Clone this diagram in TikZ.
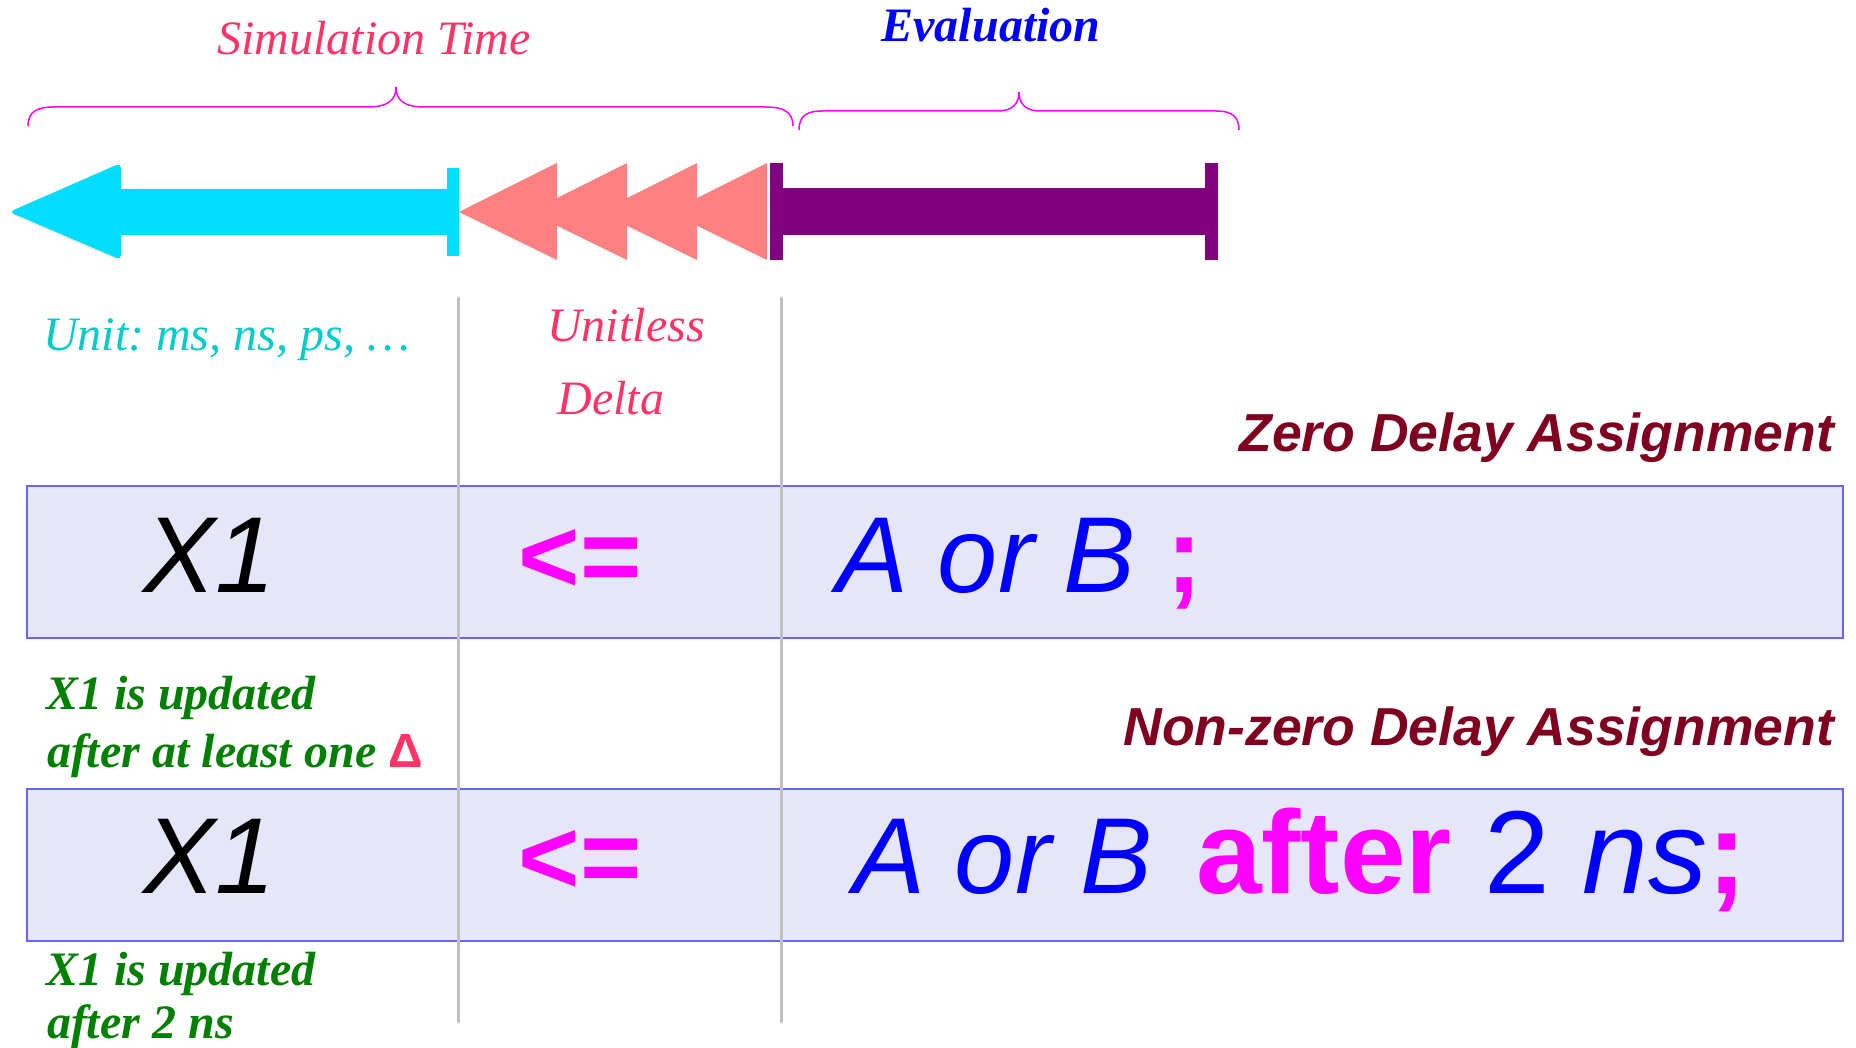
\documentclass[tikz,border=0pt]{standalone}
\usepackage{fontspec}
\setmainfont{Liberation Serif}
\setsansfont{Liberation Sans}
\frenchspacing
\newcommand\setfs[1]{\fontsize{#1}{#1}\selectfont}
\definecolor{simred}{RGB}{255,51,102}
\definecolor{unitc}{RGB}{0,204,204}
\definecolor{evalblue}{RGB}{0,0,255}
\definecolor{burg}{RGB}{128,0,32}
\definecolor{grn}{RGB}{0,128,0}
\definecolor{mag}{RGB}{255,0,255}
\definecolor{cyanar}{RGB}{0,221,255}
\definecolor{salm}{RGB}{255,128,128}
\definecolor{purp}{RGB}{128,0,128}
\definecolor{boxfill}{RGB}{230,230,250}
\definecolor{boxline}{RGB}{102,102,255}
\definecolor{guide}{RGB}{192,192,192}
\begin{document}
\begin{tikzpicture}[x=1pt,y=-1pt,
  txt/.style={inner sep=0pt, outer sep=0pt},
  serifit/.style={txt, font=\frenchspacing\setfs{48}\itshape},
  serifbi/.style={txt, font=\frenchspacing\setfs{48}\bfseries\itshape},
  sansbi/.style={txt, font=\sffamily\setfs{53.5}\bfseries\itshape, text=burg},
  bigtxt/.style={txt, font=\sffamily\setfs{108}},
  rowbox/.style={draw=boxline, fill=boxfill, line width=1.5pt, minimum width=1816pt, minimum height=152pt, anchor=north west, inner sep=0pt},
  bracestyle/.style={draw=mag, line width=1.5pt},
  guideline/.style={draw=guide, line width=3pt}
]
\fill[white] (0,0) rectangle (1856,1048);
\useasboundingbox (0,0) rectangle (1856,1048);

% cyan arrow
\fill[cyanar] (121,189) -- (447,189) -- (447,235) -- (121,235) [rounded corners=5pt] -- (121,260) -- (9,212) -- (121,163) [sharp corners] -- (121,189) -- cycle;
\fill[cyanar] (447,168) rectangle (459,256);

% salmon triangles
\foreach \k in {0,1,2,3}{
  \fill[salm] ({459+70*\k},212) -- ({557+70*\k},163) -- ({557+70*\k},260) -- cycle;
}

% purple bar
\fill[purp] (770,163) rectangle (783,260);
\fill[purp] (783,188) rectangle (1205,235);
\fill[purp] (1205,163) rectangle (1218,260);

% braces
\draw[bracestyle] (28,126) .. controls (28,111) and (38,107) .. (54,107) -- (368,107) .. controls (388,107) and (396,100) .. (396,87) .. controls (396,100) and (404,107) .. (424,107) -- (766,107) .. controls (782,107) and (793,111) .. (793,126);
\draw[bracestyle] (799,130) .. controls (799,115) and (808,111) .. (822,111) -- (998,111) .. controls (1012,111) and (1019,104) .. (1019,92) .. controls (1019,104) and (1026,111) .. (1040,111) -- (1216,111) .. controls (1230,111) and (1239,115) .. (1239,130);

% boxes
\node[rowbox] (row1) at (26,485) {};
\node[rowbox] (row2) at (26,788) {};

% guide lines
\draw[guideline] (458,297) -- (458,1023);
\draw[guideline] (781,297) -- (781,1023);

% top labels
\node[serifit, text=simred, anchor=base] (simtime) at (374,55) {Simulation Time};
\node[serifbi, text=evalblue, anchor=base] (eval) at (991,42) {Evaluation};
\node[serifit, text=unitc, anchor=base west] (unit) at (43,351) {Unit: ms, ns, ps, …};
\node[serifit, text=simred, anchor=base] (unitless) at (626,342) {Unitless};
\node[serifit, text=simred, anchor=base] (delta) at (611,415) {Delta};
\node[sansbi, anchor=base east] (zero) at (1834,452) {Zero Delay Assignment};
\node[sansbi, anchor=base east] (nonzero) at (1834,745) {Non-zero Delay Assignment};

% row 1
\node[bigtxt, font=\sffamily\setfs{108}\itshape, anchor=base] (xa) at (210,592) {X1};
\node[bigtxt, font=\sffamily\setfs{105}\bfseries, text=mag, anchor=base] (asga) at (580,592) {<=};
\node[bigtxt, anchor=base west] (expra) at (836,592) {{\color{evalblue}\itshape A or B} {\color{mag}\bfseries ;}};

% row 2
\node[bigtxt, font=\sffamily\setfs{108}\itshape, anchor=base] (xb) at (210,893) {X1};
\node[bigtxt, font=\sffamily\setfs{105}\bfseries, text=mag, anchor=base] (asgb) at (580,893) {<=};
\node[bigtxt, anchor=base west] (exprb) at (853,893) {{\color{evalblue}\itshape A or B}};
\node[txt, font=\sffamily\setfs{118}, anchor=base west] (delayb) at (1196,893) {{\color{mag}\bfseries after} {\color{evalblue}2 \itshape ns}{\color{mag}\bfseries ;}};

% green notes
\node[serifbi, text=grn, anchor=base west] (upda1) at (46,709) {X1 is updated};
\node[serifbi, text=grn, anchor=base west] (upda2) at (47,767) {after at least one {\sffamily\bfseries\upshape\color{simred}Δ}};
\node[serifbi, text=grn, anchor=base west] (updb1) at (46,985) {X1 is updated};
\node[serifbi, text=grn, anchor=base west] (updb2) at (47,1038) {after 2 ns};
\end{tikzpicture}
\end{document}
